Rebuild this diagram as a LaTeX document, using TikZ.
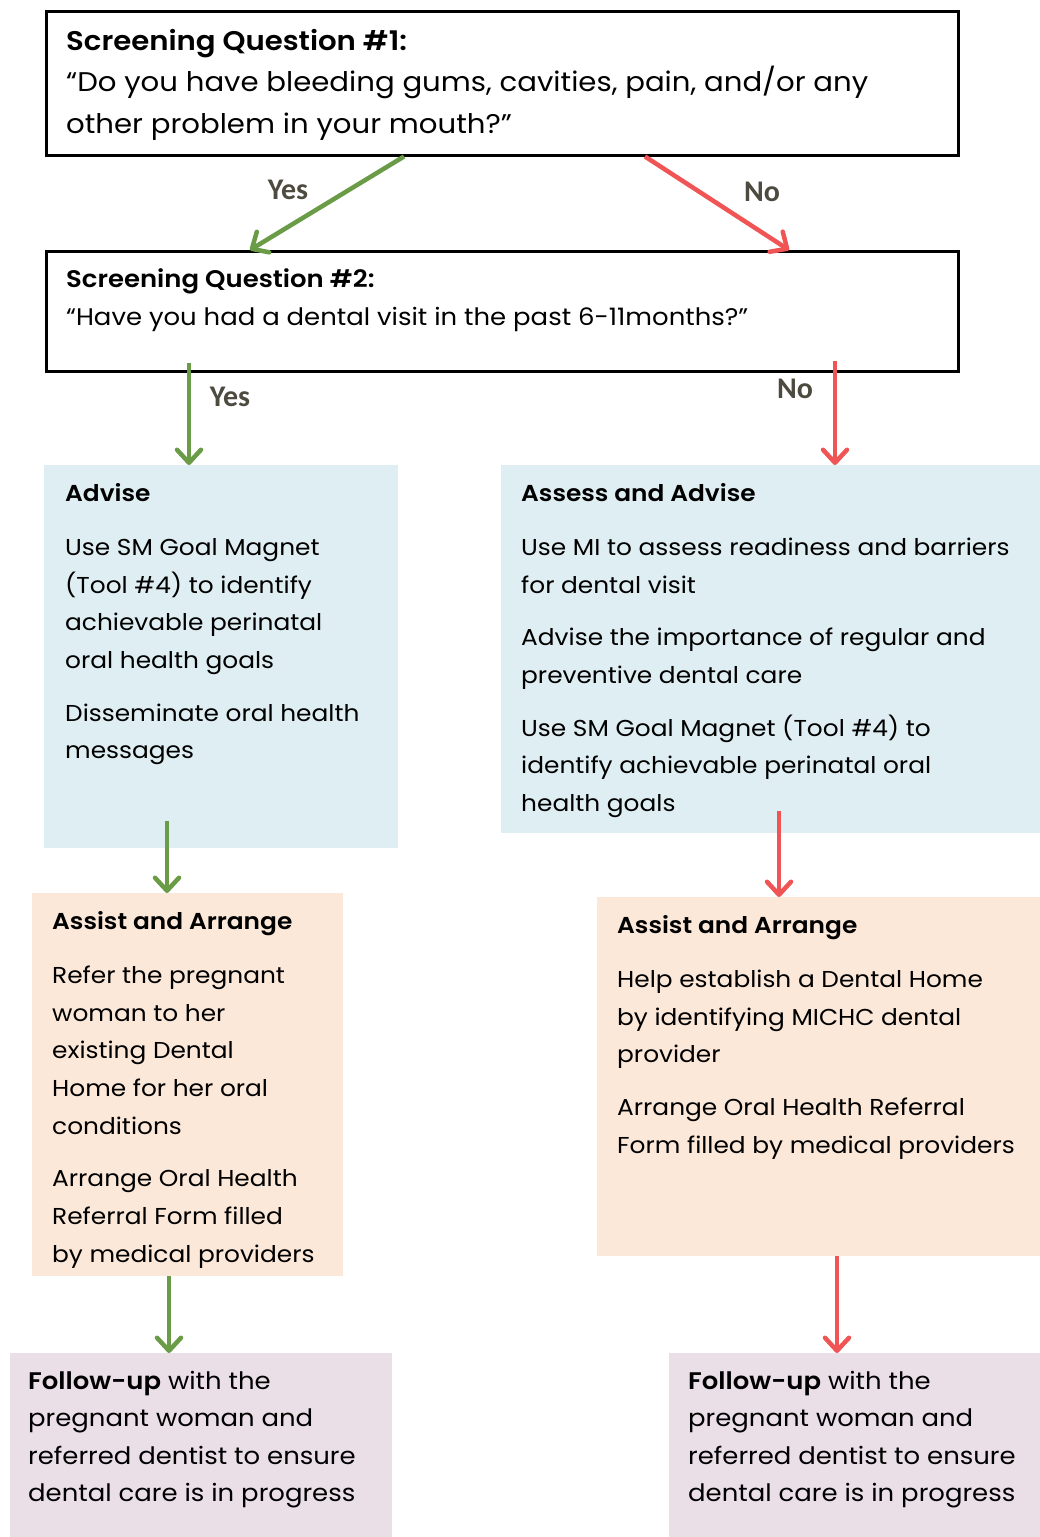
\documentclass[tikz,border=0pt]{standalone}
\usepackage{fontspec}
\setmainfont{Poppins}[FakeStretch=1.08, BoldFont={Poppins SemiBold}]
\newfontfamily\lblfont{Carlito}
\usetikzlibrary{arrows.meta}
\definecolor{qblue}{HTML}{DFEEF2}
\definecolor{qpeach}{HTML}{FCE8D9}
\definecolor{qlav}{HTML}{EBDFE7}
\definecolor{qgreen}{HTML}{6A9B47}
\definecolor{qred}{HTML}{F05454}
\definecolor{qlabel}{HTML}{4D4A40}
\tikzset{
  qbox/.style={draw=black, line width=2.5pt, fill=white, anchor=north west, inner sep=0pt},
  fbox/.style={draw=none, anchor=north west, inner sep=0pt},
  txt/.style={anchor=north west, inner sep=0pt, align=left, font=\fontsize{23}{37.7}\selectfont, text=black},
  qtxt/.style={anchor=north west, inner sep=0pt, align=left, text=black},
  garrow/.style={draw=qgreen, line width=4.5pt, -{Straight Barb[round,length=13pt,width=24pt]}},
  rarrow/.style={draw=qred, line width=4.5pt, -{Straight Barb[round,length=13pt,width=24pt]}},
  lbl/.style={font=\lblfont\bfseries\fontsize{30}{34}\selectfont, text=qlabel, inner sep=0pt}
}
\begin{document}
\begin{tikzpicture}[x=1pt,y=-1pt]
\useasboundingbox (0,0) rectangle (1040,1537);
% boxes
\node[qbox, minimum width=912pt, minimum height=144pt] (q1) at (45,10) {};
\node[qbox, minimum width=912pt, minimum height=120pt] (q2) at (45,250) {};
\node[fbox, fill=qblue, minimum width=354pt, minimum height=383pt] (adv) at (44,465) {};
\node[fbox, fill=qblue, minimum width=539pt, minimum height=368pt] (asa) at (501,465) {};
\node[fbox, fill=qpeach, minimum width=311pt, minimum height=383pt] (aal) at (32,893) {};
\node[fbox, fill=qpeach, minimum width=443pt, minimum height=359pt] (aar) at (597,897) {};
\node[fbox, fill=qlav, minimum width=382pt, minimum height=184pt] (ful) at (10,1353) {};
\node[fbox, fill=qlav, minimum width=371pt, minimum height=184pt] (fur) at (669,1353) {};
% texts
\node[qtxt, font=\fontsize{27}{41.5}\selectfont] (t1) at (66,21) {\strut\textbf{Screening Question \#1:}\\
“Do you have bleeding gums, cavities, pain, and/or any\\
other problem in your mouth?”};
\node[qtxt, font=\fontsize{24}{38}\selectfont] (t2) at (66,261) {\strut\textbf{Screening Question \#2:}\\
“Have you had a dental visit in the past 6-11months?”};
\node[txt] (tadv) at (65,475) {\strut\textbf{Advise}\\[16pt]
Use SM Goal Magnet\\
(Tool \#4) to identify\\
achievable perinatal\\
oral health goals\\[15pt]
Disseminate oral health\\
messages};
\node[txt] (tasa) at (521,475) {\strut\textbf{Assess and Advise}\\[16pt]
Use MI to assess readiness and barriers\\
for dental visit\\[15pt]
Advise the importance of regular and\\
preventive dental care\\[15pt]
Use SM Goal Magnet (Tool \#4) to\\
identify achievable perinatal oral\\
health goals};
\node[txt] (taal) at (52,903) {\strut\textbf{Assist and Arrange}\\[16pt]
Refer the pregnant\\
woman to her\\
existing Dental\\
Home for her oral\\
conditions\\[15pt]
Arrange Oral Health\\
Referral Form filled\\
by medical providers};
\node[txt] (taar) at (617,907) {\strut\textbf{Assist and Arrange}\\[16pt]
Help establish a Dental Home\\
by identifying MICHC dental\\
provider\\[15pt]
Arrange Oral Health Referral\\
Form filled by medical providers};
\node[txt, font=\fontsize{24}{37.5}\selectfont] (tful) at (28,1363) {\strut\textbf{Follow-up} with the\\
pregnant woman and\\
referred dentist to ensure\\
dental care is in progress};
\node[txt, font=\fontsize{24}{37.5}\selectfont] (tfur) at (688,1363) {\strut\textbf{Follow-up} with the\\
pregnant woman and\\
referred dentist to ensure\\
dental care is in progress};
% connectors
\draw[garrow] ([xshift=359pt]q1.south west) -- ([xshift=205pt]q2.north west);
\draw[rarrow] ([xshift=600pt]q1.south west) -- ([xshift=744pt]q2.north west);
\draw[garrow] ([xshift=144pt,yshift=10pt]q2.south west) -- ([xshift=145pt]adv.north west);
\draw[rarrow] ([xshift=790pt,yshift=12pt]q2.south west) -- ([xshift=334pt]asa.north west);
\draw[garrow] ([xshift=123pt,yshift=27pt]adv.south west) -- ([xshift=135pt]aal.north west);
\draw[rarrow] ([xshift=278pt,yshift=22pt]asa.south west) -- ([xshift=182pt]aar.north west);
\draw[garrow] ([xshift=137pt]aal.south west) -- ([xshift=159pt]ful.north west);
\draw[rarrow] ([xshift=240pt]aar.south west) -- ([xshift=168pt]fur.north west);
% labels
\node[lbl] (ly1) at (288,190) {Yes};
\node[lbl] (ln1) at (762,192) {No};
\node[lbl] (ly2) at (230,397) {Yes};
\node[lbl] (ln2) at (795,389) {No};
\end{tikzpicture}
\end{document}
